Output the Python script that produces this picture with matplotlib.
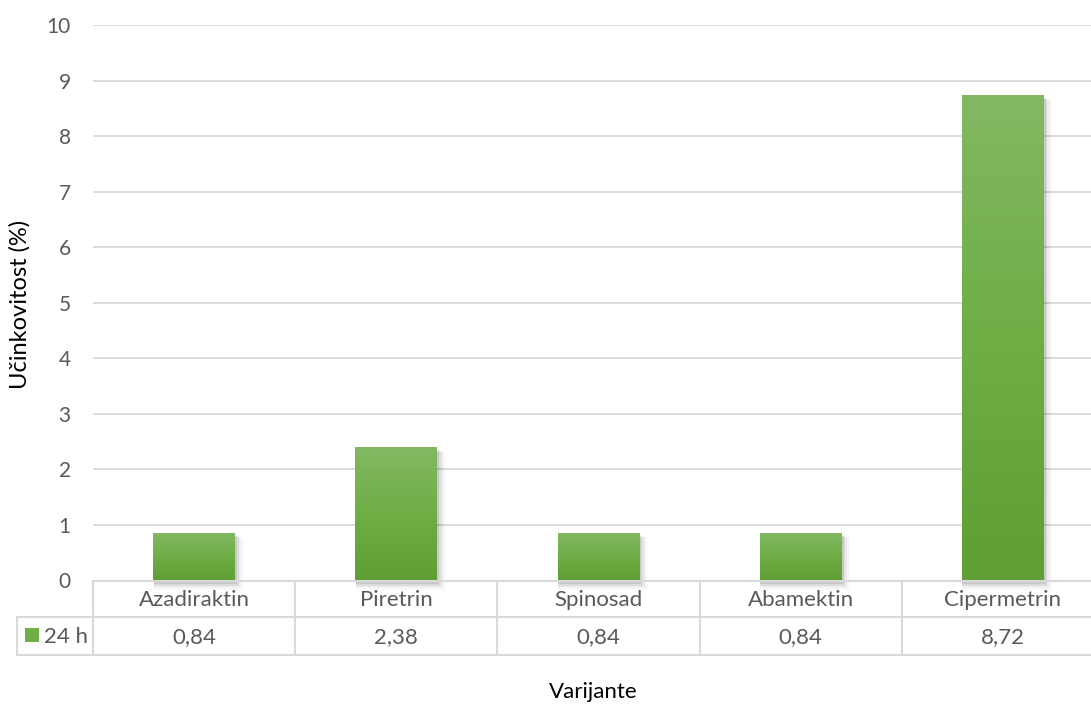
import numpy as np
import matplotlib
matplotlib.use("Agg")
import matplotlib.pyplot as plt
from matplotlib.colors import LinearSegmentedColormap
from matplotlib.patches import Rectangle
from matplotlib.lines import Line2D

# Data
categories = ["Azadiraktin", "Piretrin", "Spinosad", "Abamektin", "Cipermetrin"]
values = [0.84, 2.38, 0.84, 0.84, 8.72]
value_labels = ["0,84", "2,38", "0,84", "0,84", "8,72"]
series_name = "24 h"
y_ticks = list(range(0, 11))

plt.rcParams["font.family"] = ["Lato", "DejaVu Sans"]

W, H = 1091, 704
fig = plt.figure(figsize=(W / 100, H / 100), dpi=100)

def fx(px):
    return px / W

def fy(py):
    return 1 - py / H

left_px, right_px = 93, 1104
top_px, bottom_px = 25.3, 580.5
ax = fig.add_axes([fx(left_px), fy(bottom_px), fx(right_px - left_px), fy(top_px) - fy(bottom_px)])

n = len(categories)
ax.set_xlim(-0.5, n - 0.5)
ax.set_ylim(0, 10)
for s in ax.spines.values():
    s.set_visible(False)
ax.set_xticks([])
ax.set_yticks(y_ticks)
ax.tick_params(axis="y", length=0, pad=16, labelsize=15, labelcolor="#595959")
ax.yaxis.grid(True, color="#d9d9d9", linewidth=1.3)
ax.set_axisbelow(True)

grad = LinearSegmentedColormap.from_list("g", ["#5e9e33", "#6fae45", "#82b863"])
gradient = np.linspace(0, 1, 256).reshape(-1, 1)
bar_w = 0.405
for i, v in enumerate(values):
    x0 = i - bar_w / 2
    # soft shadow
    for k, a in enumerate([0.09, 0.06, 0.04, 0.025, 0.015]):
        d = 0.008 * (k + 1)
        ax.add_patch(Rectangle((x0 + 0.002, -0.03 - d * 4), bar_w + d, v + d * 3,
                               facecolor="#000000", alpha=a, edgecolor="none",
                               zorder=2, clip_on=False))
    ax.imshow(gradient, aspect="auto", cmap=grad, origin="lower",
              extent=(x0, x0 + bar_w, 0, v), zorder=3)
ax.set_xlim(-0.5, n - 0.5)
ax.set_ylim(0, 10)

# Data table below the plot
line_kw = dict(color="#d9d9d9", linewidth=1.5, transform=fig.transFigure, clip_on=False)
row0, row1, row2 = 580.5, 616.7, 654.5
tbl_left = 16.7
cat_w = (right_px - left_px) / n
fig.add_artist(Line2D([fx(left_px), fx(right_px)], [fy(row0), fy(row0)], **line_kw))
fig.add_artist(Line2D([fx(tbl_left), fx(right_px)], [fy(row1), fy(row1)], **line_kw))
fig.add_artist(Line2D([fx(tbl_left), fx(right_px)], [fy(row2), fy(row2)], **line_kw))
fig.add_artist(Line2D([fx(tbl_left), fx(tbl_left)], [fy(row1), fy(row2)], **line_kw))
for k in range(n + 1):
    xb = left_px + k * cat_w
    fig.add_artist(Line2D([fx(xb), fx(xb)], [fy(row0), fy(row2)], **line_kw))

for i, (c, lab) in enumerate(zip(categories, value_labels)):
    xc = left_px + (i + 0.5) * cat_w
    fig.text(fx(xc), fy((row0 + row1) / 2 + 1), c, ha="center", va="center",
             fontsize=16, color="#595959")
    fig.text(fx(xc), fy((row1 + row2) / 2 + 1), lab, ha="center", va="center",
             fontsize=16, color="#595959")

# legend key in the table
fig.add_artist(Rectangle((fx(25), fy(642)), fx(14), fy(628) - fy(642),
                         transform=fig.transFigure, facecolor="#6fae45", edgecolor="none"))
fig.text(fx(44), fy((row1 + row2) / 2 + 1), series_name, ha="left", va="center",
         fontsize=16, color="#595959")

# axis titles
fig.text(fx(20), fy(304), "Učinkovitost (%)", rotation=90, ha="center", va="center",
         fontsize=17, color="#000000")
fig.text(fx(593), fy(692), "Varijante", ha="center", va="center",
         fontsize=16, color="#000000")

fig.savefig("out.png", dpi=100)
